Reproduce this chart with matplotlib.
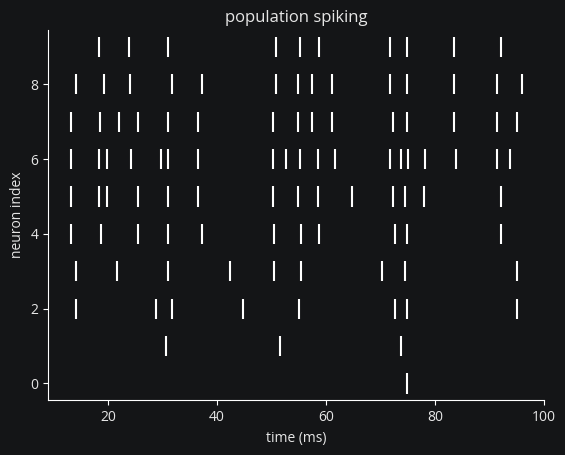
import matplotlib
matplotlib.use('Agg')
import matplotlib.pyplot as plt

# spike times (ms) per neuron
neuron_ids = [0, 1, 2, 3, 4, 5, 6, 7, 8, 9]
spikes_0 = [74.8]
spikes_1 = [30.6, 51.5, 73.7]
spikes_2 = [14.1, 28.8, 31.7, 44.7, 55.0, 72.6, 74.8, 95.0]
spikes_3 = [14.1, 21.6, 31.0, 42.3, 50.4, 55.4, 70.2, 74.4, 95.0]
spikes_4 = [13.2, 18.7, 25.5, 31.0, 37.2, 50.4, 55.4, 58.8, 72.6, 74.8, 92.1]
spikes_5 = [13.2, 18.3, 19.9, 25.5, 31.0, 36.5, 50.2, 54.8, 58.5, 64.7, 72.2, 74.4, 77.9, 92.1]
spikes_6 = [13.2, 18.3, 19.8, 24.2, 29.7, 31.1, 36.5, 50.2, 52.6, 55.2, 58.5, 61.6,
            71.7, 73.7, 75.0, 78.1, 83.8, 91.3, 93.7]
spikes_7 = [13.2, 18.5, 22.0, 25.5, 31.1, 36.5, 50.2, 54.8, 57.4, 61.1, 72.2, 74.8,
            83.4, 91.3, 95.0]
spikes_8 = [14.1, 19.2, 24.0, 31.7, 37.2, 50.8, 54.8, 57.4, 61.1, 71.7, 74.8, 83.4,
            91.3, 95.9]
spikes_9 = [18.3, 23.8, 31.0, 50.8, 55.2, 58.8, 71.7, 74.8, 83.4, 92.1]

all_spikes = [spikes_0, spikes_1, spikes_2, spikes_3, spikes_4,
              spikes_5, spikes_6, spikes_7, spikes_8, spikes_9]

bg = '#141517'
fg = '#e6e6e6'

plt.rcParams['font.family'] = ['Open Sans', 'DejaVu Sans']

fig = plt.figure(figsize=(5.65, 4.55), dpi=100, facecolor=bg)
ax = fig.add_axes([0.0855, 0.1202, 0.9634 - 0.0855, 0.934 - 0.1202])
ax.set_facecolor(bg)

ax.eventplot(all_spikes, lineoffsets=neuron_ids, linelengths=0.54,
             linewidths=1.5, colors='white')

ax.set_ylim(-0.45, 9.45)
ax.set_yticks([0, 2, 4, 6, 8])
ax.set_xticks([20, 40, 60, 80, 100])

for s in ['top', 'right']:
    ax.spines[s].set_visible(False)
for s in ['left', 'bottom']:
    ax.spines[s].set_color('white')

ax.tick_params(colors='white', labelcolor=fg, labelsize=10)
ax.set_xlabel('time (ms)', color=fg, fontsize=10)
ax.set_ylabel('neuron index', color=fg, fontsize=10)
ax.set_title('population spiking', color=fg, fontsize=12)

fig.savefig('out.png', dpi=100, facecolor=bg)
